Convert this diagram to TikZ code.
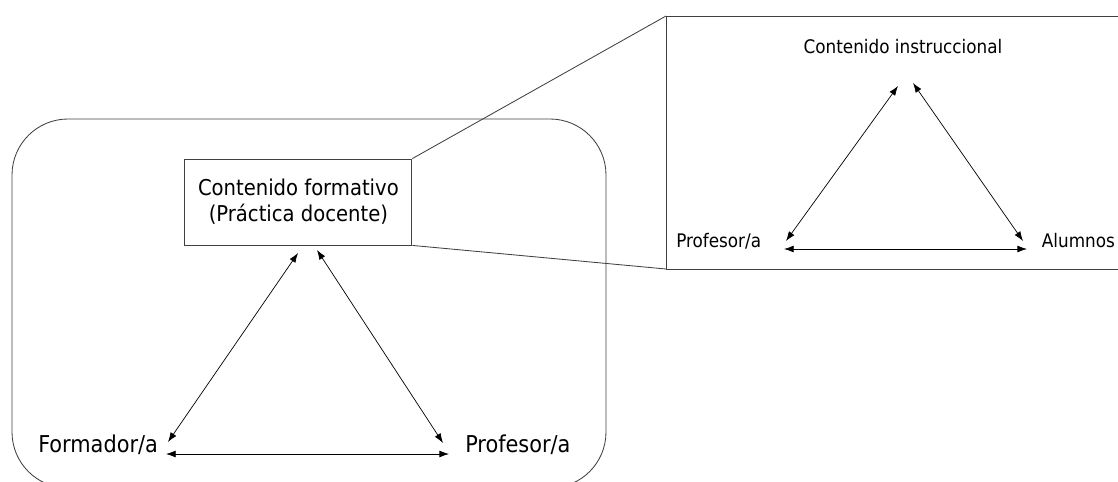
\documentclass[tikz,border=0pt]{standalone}
\usepackage{fontspec}
\setmainfont{DejaVu Sans Condensed}
\usetikzlibrary{arrows.meta,calc,positioning}

\tikzset{
  rel/.style={{Latex[length=2.4mm,width=1.7mm]}-{Latex[length=2.4mm,width=1.7mm]}, line width=0.5pt},
  frame/.style={line width=0.6pt, draw=black!75},
  boxtxt/.style={inner sep=0pt, font=\fontsize{15.5}{18.4}\selectfont},
  bigtxt/.style={inner sep=0pt, font=\fontsize{16.5}{19}\selectfont},
  smalltxt/.style={inner sep=0pt, font=\fontsize{13.3}{15}\selectfont}
}

\begin{document}
\begin{tikzpicture}
\useasboundingbox (0,0) rectangle (27.95,12.025);
\clip (0,0) rectangle (27.95,12.025);

% teacher training triangle
\draw[frame, rounded corners=1.4cm] (0.3,-0.175) rectangle (15.15,9.05);

\node[draw, frame, minimum width=5.675cm, minimum height=2.15cm, align=center, boxtxt] (cf) at (7.46,6.975) {Contenido formativo\\(Práctica docente)};
\node[bigtxt, anchor=base west] (form) at (0.95,0.71) {Formador/a};
\node[bigtxt, anchor=base west] (prof) at (11.625,0.71) {Profesor/a};

\coordinate (cfl) at (7.45,5.7);
\coordinate (cfr) at (7.925,5.775);
\coordinate (forma) at (4.2,0.975);
\coordinate (formb) at (4.15,0.675);
\coordinate (profa) at (11.075,0.95);
\coordinate (profb) at (11.225,0.675);

\draw[rel] (forma) -- (cfl);
\draw[rel] (cfr) -- (profa);
\draw[rel] (formb) -- (profb);

% classroom triangle, zoomed out of the box
\coordinate (zt) at (16.65,11.625);
\coordinate (zb) at (16.65,5.3);
\draw[frame] (28.2,11.625) -- (zt) -- (zb) -- (28.2,5.3);
\draw[frame] (cf.north east) -- (zt);
\draw[frame] (cf.south east) -- (zb);

\node[smalltxt, anchor=base] (ci) at (22.575,10.69) {Contenido instruccional};
\node[smalltxt, anchor=base west] (prof2) at (16.9,5.85) {Profesor/a};
\node[smalltxt, anchor=base east] (alum) at (27.88,5.85) {Alumnos};

\coordinate (cil) at (22.45,9.875);
\coordinate (cir) at (22.825,9.95);
\coordinate (p2a) at (19.65,6.0);
\coordinate (p2b) at (19.6,5.8);
\coordinate (ala) at (25.575,6.0);
\coordinate (alb) at (25.675,5.8);

\draw[rel] (p2a) -- (cil);
\draw[rel] (cir) -- (ala);
\draw[rel] (p2b) -- (alb);
\end{tikzpicture}
\end{document}
